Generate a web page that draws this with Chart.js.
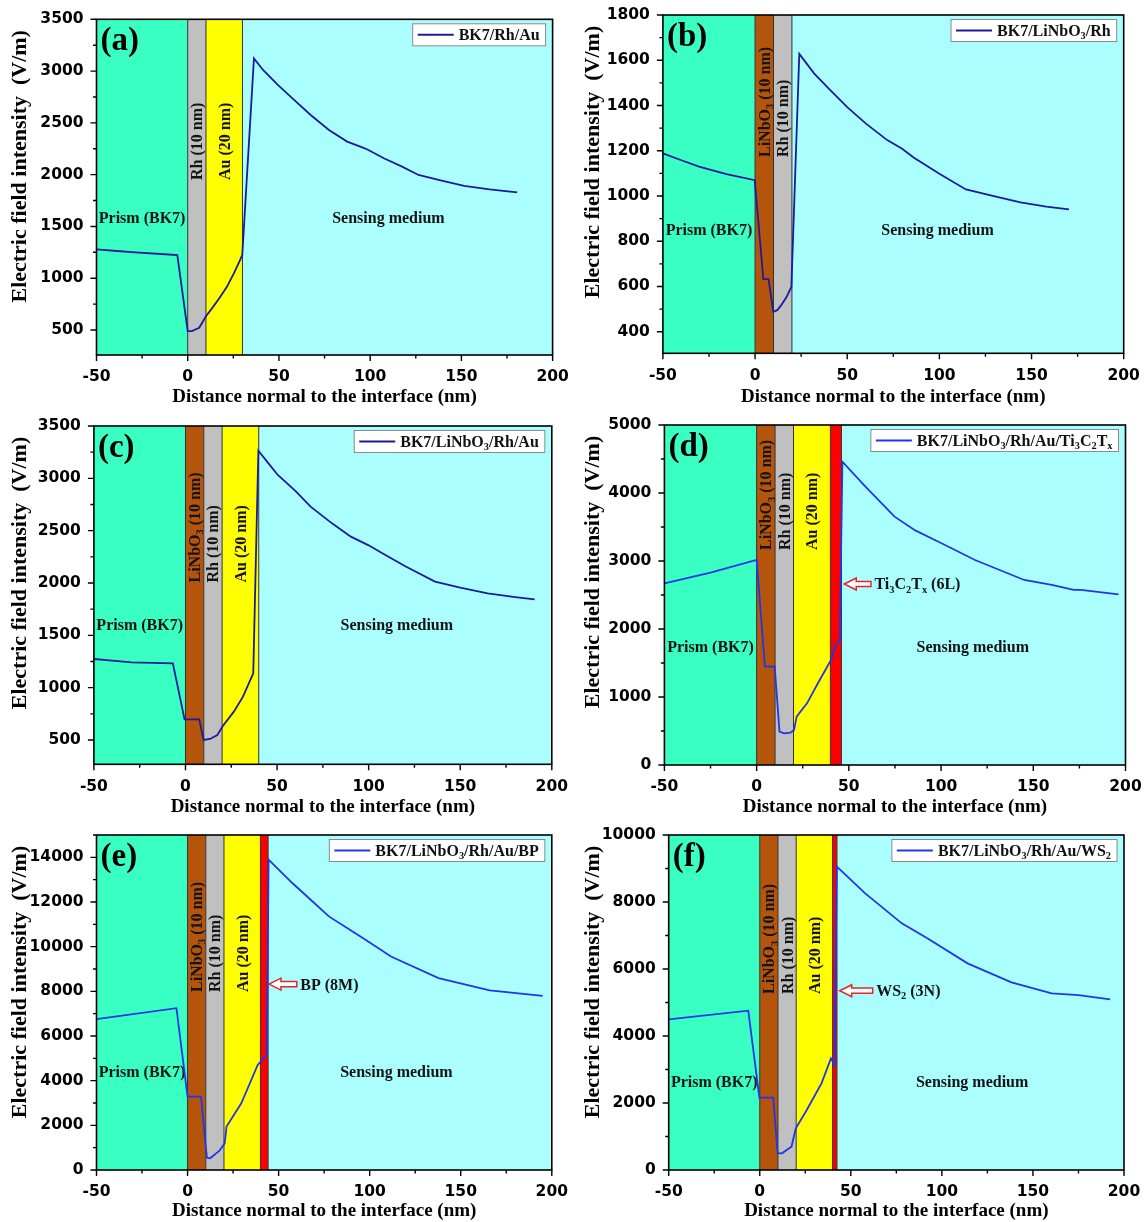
<!DOCTYPE html>
<html>
<head>
<meta charset="utf-8">
<script src="https://cdn.jsdelivr.net/npm/chart.js@4/dist/chart.umd.min.js"></script>
<style>
html,body{margin:0;padding:0;background:#fff;}
#wrap{position:relative;width:1146px;height:1222px;overflow:hidden;}
#wrap canvas{position:absolute;}
</style>
</head>
<body>
<div id="wrap"></div>
<script>
// ---------------- data ----------------
const X_TITLE = 'Distance normal to the interface (nm)';
const Y_TITLE = 'Electric field intensity  (V/m)';
const xTicks = [-50, 0, 50, 100, 150, 200];
const xMinorTicks = [-25, 25, 75, 125, 175];

const yTicksA = [500, 1000, 1500, 2000, 2500, 3000, 3500];
const yMinorA = [750, 1250, 1750, 2250, 2750, 3250];
const yTicksB = [400, 600, 800, 1000, 1200, 1400, 1600, 1800];
const yMinorB = [500, 700, 900, 1100, 1300, 1500, 1700];
const yTicksC = [500, 1000, 1500, 2000, 2500, 3000, 3500];
const yMinorC = [750, 1250, 1750, 2250, 2750, 3250];
const yTicksD = [0, 1000, 2000, 3000, 4000, 5000];
const yMinorD = [500, 1500, 2500, 3500, 4500];
const yTicksE = [0, 2000, 4000, 6000, 8000, 10000, 12000, 14000];
const yMinorE = [1000, 3000, 5000, 7000, 9000, 11000, 13000, 15000];
const yTicksF = [0, 2000, 4000, 6000, 8000, 10000];
const yMinorF = [1000, 3000, 5000, 7000, 9000];

// series (distance nm, field V/m)
const xA = [-50,-38.8,-26.8,-14.7,-5.7,0,2.3,6.3,10.1,13.3,17.3,21.3,25.3,28.3,29.9,36.3,41.3,49.4,57.4,67.4,77.4,87.4,96.4,98.5,107.5,117.5,126.5,137.5,151.5,165.5,180.6];
const yA = [1279,1263,1247,1234,1224,490,490,522,635,709,806,912,1047,1160,1224,3123,3011,2866,2737,2576,2431,2319,2258,2243,2158,2077,1997,1949,1891,1858,1829];
const xB = [-50,-40,-30.4,-15.5,-0.2,4.5,7.3,9.9,12,14,17,19.7,24,32,40,50,60,71.7,80,86,100,114.4,129,144,158,170.3];
const yB = [1188,1158,1130,1097,1070,632,632,488,495,515,552,598,1628,1542,1475,1393,1321,1247,1208,1170,1098,1029,1000,972,953,941];
const xC = [-50,-40,-29.4,-18,-6.9,-0.5,7.5,9.9,13.4,17.4,20.4,26.4,31.4,37,39.8,45,50.4,60,68.3,80,90.3,100,108.2,120,136.2,150,165,180,190.6];
const yC = [1274,1258,1242,1236,1232,697,697,500,510,548,634,771,914,1137,3264,3150,3032,2880,2729,2570,2443,2360,2277,2160,2013,1955,1900,1865,1844];
const xD = [-50,-25,0,4.5,9.8,12.4,15,18.3,20.3,21.7,27.3,34.2,40.5,42.7,45.1,46.5,59,74.8,86,98.6,118.4,145.1,160,171.9,175.8,196.2];
const yD = [2672,2830,3015,1446,1446,490,466,475,515,711,907,1250,1554,1755,1848,4461,4093,3652,3450,3284,3015,2721,2650,2574,2574,2510];
const xE = [-50,-6.1,0,7.4,10.6,12.4,17.4,20.4,21.4,29.5,38.5,43.5,44.5,57.5,67.6,77.6,87.6,97.7,111.7,137.8,165.9,195];
const yE = [6753,7246,3287,3287,553,523,852,1195,1942,2988,4706,5155,13895,12849,12102,11355,10832,10309,9562,8591,8038,7799];
const xF = [-50,-6.3,-0.2,7.4,9.8,12.2,17.4,19.8,25.8,33.9,39.1,41.1,42.3,57.9,78,92,114.1,138.2,160.3,175,192.4];
const yF = [4498,4756,2159,2159,498,498,697,1244,1791,2587,3333,3134,9055,8259,7363,6915,6169,5602,5274,5220,5095];

// layer structures (boundaries in nm)
const layersA = ['BK7','Rh','Au','Sensing'];
const boundsA = [-50,0,10,30,200];
const layersB = ['BK7','LiNbO3','Rh','Sensing'];
const boundsB = [-50,0,10,20,200];
const layersC = ['BK7','LiNbO3','Rh','Au','Sensing'];
const boundsC = [-50,0,10,20,40,200];
const layersD = ['BK7','LiNbO3','Rh','Au','Ti3C2Tx','Sensing'];
const boundsD = [-50,0,10,20,40,46,200];
const layersE = ['BK7','LiNbO3','Rh','Au','BP','Sensing'];
const boundsE = [-50,0,10,20,40,44.24,200];
const layersF = ['BK7','LiNbO3','Rh','Au','WS2','Sensing'];
const boundsF = [-50,0,10,20,40,42.4,200];

// names (segments: [text, isSubscript])
const nameA = [['BK7/Rh/Au',0]];
const nameB = [['BK7/LiNbO',0],['3',1],['/Rh',0]];
const nameC = [['BK7/LiNbO',0],['3',1],['/Rh/Au',0]];
const nameD = [['BK7/LiNbO',0],['3',1],['/Rh/Au/Ti',0],['3',1],['C',0],['2',1],['T',0],['x',1]];
const nameE = [['BK7/LiNbO',0],['3',1],['/Rh/Au/BP',0]];
const nameF = [['BK7/LiNbO',0],['3',1],['/Rh/Au/WS',0],['2',1]];
const annD = [['Ti',0],['3',1],['C',0],['2',1],['T',0],['x',1],[' (6L)',0]];
const annE = [['BP (8M)',0]];
const annF = [['WS',0],['2',1],[' (3N)',0]];
const PRISM_LABEL = 'Prism (BK7)';
const SENSING_LABEL = 'Sensing medium';
const BAND_LABELS = {
  LiNbO3: [['LiNbO',0],['3',1],[' (10 nm)',0]],
  Rh: [['Rh (10 nm)',0]],
  Au: [['Au (20 nm)',0]]
};

// ---------------- styles ----------------
const SERIF = '"Liberation Serif","Times New Roman",serif';
const SANS = '"DejaVu Sans",sans-serif';
const LAYER_COLORS = {
  BK7: 'rgb(58,255,195)', LiNbO3: '#b5550b', Rh: '#c0c0c0', Au: '#ffff00',
  Ti3C2Tx: '#ff0000', BP: '#ff0000', WS2: '#ff0000', Sensing: 'rgb(170,255,254)'
};
const NAVY = '#1b1b9c';
const BLUE = '#2236e8';
const TICK_FONT = {family: SANS, weight: 'bold', size: 15.5};

const panels = [
  {letter:'(a)', pos:[0,0,573,410], area:[96.5,19.3,552.6,355], yMin:258.6, yMax:3500, yT:yTicksA, yM:yMinorA, xs:xA, ys:yA, name:nameA, color:NAVY, layers:layersA, bounds:boundsA, lblBottom:180, prismY:1591, sensX:110, titlePad:1.6, ann:null},
  {letter:'(b)', pos:[573,0,573,410], area:[89.9,15,550.7,353.3], yMin:304.5, yMax:1800, yT:yTicksB, yM:yMinorB, xs:xB, ys:yB, name:nameB, color:NAVY, layers:layersB, bounds:boundsB, lblBottom:157, prismY:850, sensX:99, titlePad:1.6, ann:null},
  {letter:'(c)', pos:[0,410,573,410], area:[93.9,16,551.8,354.3], yMin:267.8, yMax:3500, yT:yTicksC, yM:yMinorC, xs:xC, ys:yC, name:nameC, color:NAVY, layers:layersC, bounds:boundsC, lblBottom:172.5, prismY:1599, sensX:115.4, titlePad:1.6, ann:null},
  {letter:'(d)', pos:[573,410,573,410], area:[91.4,15,552.5,355], yMin:0, yMax:5000, yT:yTicksD, yM:yMinorD, xs:xD, ys:yD, name:nameD, color:BLUE, layers:layersD, bounds:boundsD, lblBottom:140, prismY:1750, sensX:117.2, titlePad:1.6, ann:{tip:47.5, tail:62, y:2662, text:annD}},
  {letter:'(e)', pos:[0,820,573,402], area:[96.5,15,551.8,350], yMin:0, yMax:15000, yT:yTicksE, yM:yMinorE, xs:xE, ys:yE, name:nameE, color:BLUE, layers:layersE, bounds:boundsE, lblBottom:172, prismY:4406, sensX:114.7, titlePad:0, ann:{tip:44.7, tail:60, y:8323, text:annE}},
  {letter:'(f)', pos:[573,820,573,402], area:[95.7,15,551,350], yMin:0, yMax:10000, yT:yTicksF, yM:yMinorF, xs:xF, ys:yF, name:nameF, color:BLUE, layers:layersF, bounds:boundsF, lblBottom:174, prismY:2636, sensX:116.6, titlePad:0, ann:{tip:43.9, tail:62, y:5352, text:annF}}
];

// ---------------- helpers ----------------
function richWidth(ctx, segs, size) {
  let w = 0;
  for (const [t, sub] of segs) {
    ctx.font = 'bold ' + (sub ? size * 0.65 : size) + 'px ' + SERIF;
    w += ctx.measureText(t).width;
  }
  return w;
}
function drawRich(ctx, segs, x, y, size, color) {
  ctx.fillStyle = color;
  ctx.textAlign = 'left';
  ctx.textBaseline = 'alphabetic';
  let cx = x;
  for (const [t, sub] of segs) {
    const s = sub ? size * 0.65 : size;
    ctx.font = 'bold ' + s + 'px ' + SERIF;
    ctx.fillText(t, cx, sub ? y + size * 0.2 : y);
    cx += ctx.measureText(t).width;
  }
  return cx - x;
}

function makePlugin(P) {
  return {
    id: 'panelDeco',
    beforeDatasetsDraw(chart) {
      const ctx = chart.ctx, A = chart.chartArea, x = chart.scales.x, y = chart.scales.y;
      ctx.save();
      for (let i = 0; i < P.layers.length; i++) {
        const x0 = x.getPixelForValue(P.bounds[i]), x1 = x.getPixelForValue(P.bounds[i + 1]);
        ctx.fillStyle = LAYER_COLORS[P.layers[i]];
        ctx.fillRect(x0, A.top, x1 - x0, A.bottom - A.top);
      }
      ctx.strokeStyle = '#333';
      ctx.lineWidth = 1;
      for (let i = 1; i < P.bounds.length - 1; i++) {
        const px = x.getPixelForValue(P.bounds[i]);
        ctx.beginPath(); ctx.moveTo(px, A.top); ctx.lineTo(px, A.bottom); ctx.stroke();
      }
      for (let i = 0; i < P.layers.length; i++) {
        const lab = BAND_LABELS[P.layers[i]];
        if (!lab) continue;
        const cx = (x.getPixelForValue(P.bounds[i]) + x.getPixelForValue(P.bounds[i + 1])) / 2;
        ctx.save();
        ctx.translate(cx + 5.5, P.lblBottom);
        ctx.rotate(-Math.PI / 2);
        drawRich(ctx, lab, 0, 0, 16, '#141414');
        ctx.restore();
      }
      ctx.font = 'bold 16px ' + SERIF;
      ctx.fillStyle = '#141414';
      ctx.textAlign = 'center';
      ctx.textBaseline = 'alphabetic';
      const py = y.getPixelForValue(P.prismY) + 5.5;
      ctx.fillText(PRISM_LABEL, x.getPixelForValue(-25), py);
      ctx.fillText(SENSING_LABEL, x.getPixelForValue(P.sensX), py);
      ctx.restore();
    },
    afterDatasetsDraw(chart) {
      const ctx = chart.ctx, A = chart.chartArea, x = chart.scales.x, y = chart.scales.y;
      ctx.save();
      // frame
      ctx.strokeStyle = '#000';
      ctx.lineWidth = 1.6;
      ctx.strokeRect(A.left, A.top, A.right - A.left, A.bottom - A.top);
      // ticks
      ctx.lineWidth = 1.4;
      ctx.beginPath();
      for (const v of xTicks) { const p = x.getPixelForValue(v); ctx.moveTo(p, A.bottom); ctx.lineTo(p, A.bottom + 6); }
      for (const v of xMinorTicks) { const p = x.getPixelForValue(v); ctx.moveTo(p, A.bottom); ctx.lineTo(p, A.bottom + 3.5); }
      for (const v of P.yT) { const p = y.getPixelForValue(v); ctx.moveTo(A.left, p); ctx.lineTo(A.left - 6, p); }
      for (const v of P.yM) { if (v < P.yMin || v > P.yMax) continue; const p = y.getPixelForValue(v); ctx.moveTo(A.left, p); ctx.lineTo(A.left - 3.5, p); }
      ctx.stroke();
      // panel letter
      ctx.font = 'bold 33px ' + SERIF;
      ctx.fillStyle = '#000';
      ctx.textAlign = 'left';
      ctx.textBaseline = 'alphabetic';
      ctx.fillText(P.letter, A.left + 4, A.top + 31);
      // legend
      const tw = richWidth(ctx, P.name, 16);
      const bw = 5 + 36 + 5 + tw + 6, bh = 22;
      const bx = A.right - 7 - bw, by = A.top + 4.5;
      ctx.fillStyle = '#fff';
      ctx.fillRect(bx, by, bw, bh);
      ctx.strokeStyle = '#8a8a8a';
      ctx.lineWidth = 1;
      ctx.strokeRect(bx, by, bw, bh);
      ctx.strokeStyle = P.color;
      ctx.lineWidth = 2;
      ctx.beginPath(); ctx.moveTo(bx + 5, by + bh / 2); ctx.lineTo(bx + 41, by + bh / 2); ctx.stroke();
      drawRich(ctx, P.name, bx + 46, by + bh / 2 + 5.5, 16, '#111');
      // annotation arrow
      if (P.ann) {
        const tip = x.getPixelForValue(P.ann.tip), tail = x.getPixelForValue(P.ann.tail), ay = y.getPixelForValue(P.ann.y);
        const hl = 12, hh = 6, sh = 2.6;
        ctx.beginPath();
        ctx.moveTo(tip, ay);
        ctx.lineTo(tip + hl, ay - hh);
        ctx.lineTo(tip + hl, ay - sh);
        ctx.lineTo(tail, ay - sh);
        ctx.lineTo(tail, ay + sh);
        ctx.lineTo(tip + hl, ay + sh);
        ctx.lineTo(tip + hl, ay + hh);
        ctx.closePath();
        ctx.fillStyle = '#fff';
        ctx.fill();
        ctx.strokeStyle = '#e3262b';
        ctx.lineWidth = 1.5;
        ctx.stroke();
        drawRich(ctx, P.ann.text, tail + 3.5, ay + 5.5, 16, '#141414');
      }
      // y title
      ctx.save();
      ctx.translate(20, A.top + 147);
      ctx.rotate(-Math.PI / 2);
      ctx.font = 'bold 22px ' + SERIF;
      ctx.fillStyle = '#000';
      ctx.textAlign = 'center';
      ctx.textBaseline = 'middle';
      ctx.fillText(Y_TITLE, 0, 0);
      ctx.restore();
      ctx.restore();
    }
  };
}

const wrap = document.getElementById('wrap');
panels.forEach(P => {
  const [cx, cy, W, H] = P.pos;
  const [l, t, r, b] = P.area;
  const cv = document.createElement('canvas');
  cv.width = W; cv.height = H;
  cv.style.left = cx + 'px'; cv.style.top = cy + 'px';
  cv.style.width = W + 'px'; cv.style.height = H + 'px';
  wrap.appendChild(cv);
  const label = P.name.map(s => s[0]).join('');
  const hiddenGrid = {display: true, drawOnChartArea: false, drawTicks: true, tickLength: 13, color: 'rgba(0,0,0,0)'};
  new Chart(cv, {
    type: 'line',
    data: {
      datasets: [{
        label: label,
        data: P.xs.map((v, i) => ({x: v, y: P.ys[i]})),
        borderColor: P.color,
        borderWidth: 1.8,
        pointRadius: 0,
        tension: 0,
        fill: false
      }]
    },
    options: {
      responsive: false,
      animation: false,
      devicePixelRatio: 1,
      layout: {padding: {top: t, right: W - r, left: 0, bottom: 0}},
      plugins: {legend: {display: false}, tooltip: {enabled: false}},
      scales: {
        x: {
          type: 'linear', min: -50, max: 200,
          afterBuildTicks: s => { s.ticks = xTicks.map(v => ({value: v})); },
          afterFit: s => { s.height = H - b; },
          grid: hiddenGrid,
          border: {display: false},
          ticks: {padding: 0, color: '#000', maxRotation: 0, autoSkip: false,
                  font: TICK_FONT, callback: v => String(v)},
          title: {display: true, text: X_TITLE, color: '#000',
                  font: {family: SERIF, weight: 'bold', size: 19},
                  padding: {top: 0, bottom: P.titlePad}}
        },
        y: {
          type: 'linear', min: P.yMin, max: P.yMax,
          afterBuildTicks: s => { s.ticks = P.yT.map(v => ({value: v})); },
          afterFit: s => { s.width = l; },
          grid: hiddenGrid,
          border: {display: false},
          ticks: {padding: 0, color: '#000', autoSkip: false,
                  font: TICK_FONT, callback: v => String(v)}
        }
      }
    },
    plugins: [makePlugin(P)]
  });
});
</script>
</body>
</html>
